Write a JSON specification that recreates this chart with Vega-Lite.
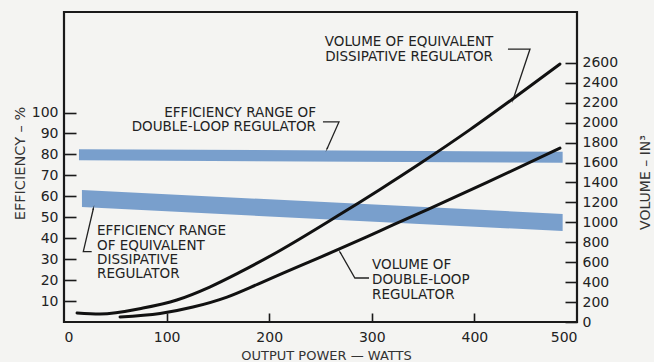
{
  "$schema": "https://vega.github.io/schema/vega-lite/v6.json",
  "width": 513,
  "height": 310,
  "autosize": {"type": "none"},
  "padding": {"left": 64, "top": 12, "right": 77, "bottom": 40},
  "background": "#f4f4f2",
  "config": {
    "view": {"stroke": "#1a1a1a", "strokeWidth": 2.2},
    "font": "DejaVu Sans",
    "axis": {
      "grid": false,
      "domain": false,
      "labelFont": "DejaVu Sans",
      "labelFontSize": 14,
      "labelColor": "#222",
      "titleFont": "DejaVu Sans",
      "titleFontWeight": "normal",
      "titleColor": "#333",
      "tickColor": "#1a1a1a",
      "tickWidth": 1.6
    }
  },
  "datasets": {
    "bands": [
      {"band": "dl", "w": 14.6, "eff": 82.5, "eff2": 77.2},
      {"band": "dl", "w": 486, "eff": 81.3, "eff2": 76.0},
      {"band": "dis", "w": 17.5, "eff": 63.0, "eff2": 54.9},
      {"band": "dis", "w": 486, "eff": 51.6, "eff2": 43.4}
    ],
    "curves": [
      {"curve": "dis", "w": 12.7, "vol": 90},
      {"curve": "dis", "w": 35, "vol": 80},
      {"curve": "dis", "w": 77, "vol": 140},
      {"curve": "dis", "w": 110, "vol": 221},
      {"curve": "dis", "w": 142, "vol": 351},
      {"curve": "dis", "w": 171.5, "vol": 500},
      {"curve": "dis", "w": 207.6, "vol": 700},
      {"curve": "dis", "w": 266, "vol": 1060},
      {"curve": "dis", "w": 308, "vol": 1330},
      {"curve": "dis", "w": 347, "vol": 1590},
      {"curve": "dis", "w": 395.7, "vol": 1930},
      {"curve": "dis", "w": 437.6, "vol": 2240},
      {"curve": "dis", "w": 483.4, "vol": 2588},
      {"curve": "dl", "w": 54.6, "vol": 50},
      {"curve": "dl", "w": 93.6, "vol": 85},
      {"curve": "dl", "w": 125.7, "vol": 150},
      {"curve": "dl", "w": 158.9, "vol": 250},
      {"curve": "dl", "w": 189.1, "vol": 380},
      {"curve": "dl", "w": 213.5, "vol": 490},
      {"curve": "dl", "w": 269, "vol": 735},
      {"curve": "dl", "w": 308, "vol": 915},
      {"curve": "dl", "w": 347, "vol": 1095},
      {"curve": "dl", "w": 412.3, "vol": 1400},
      {"curve": "dl", "w": 483.4, "vol": 1745}
    ],
    "notes": [
      {"note": "a", "w": 336.3, "eff": 133.9, "txt": "VOLUME OF EQUIVALENT"},
      {"note": "a", "w": 336.3, "eff": 126.5, "txt": "DISSIPATIVE REGULATOR"},
      {"note": "b", "w": 245.6, "eff": 100.0, "txt": "EFFICIENCY RANGE OF"},
      {"note": "b", "w": 245.6, "eff": 93.1, "txt": "DOUBLE-LOOP REGULATOR"},
      {"note": "c", "w": 32.2, "eff": 43.4, "txt": "EFFICIENCY RANGE"},
      {"note": "c", "w": 32.2, "eff": 36.5, "txt": "OF EQUIVALENT"},
      {"note": "c", "w": 32.2, "eff": 29.6, "txt": "DISSIPATIVE"},
      {"note": "c", "w": 32.2, "eff": 22.7, "txt": "REGULATOR"},
      {"note": "d", "w": 300.2, "eff": 27.2, "txt": "VOLUME OF"},
      {"note": "d", "w": 300.2, "eff": 20.1, "txt": "DOUBLE-LOOP"},
      {"note": "d", "w": 300.2, "eff": 12.9, "txt": "REGULATOR"}
    ],
    "leaders": [
      {"lead": "a", "k": 1, "w": 432.7, "eff": 130.3},
      {"lead": "a", "k": 2, "w": 454.2, "eff": 130.3},
      {"lead": "a", "k": 3, "w": 437.6, "eff": 106.0},
      {"lead": "b", "k": 1, "w": 252.4, "eff": 95.5},
      {"lead": "b", "k": 2, "w": 268.0, "eff": 95.5},
      {"lead": "b", "k": 3, "w": 256.3, "eff": 82.6},
      {"lead": "c", "k": 1, "w": 28.7, "eff": 54.3},
      {"lead": "c", "k": 2, "w": 18.8, "eff": 33.6},
      {"lead": "c", "k": 3, "w": 27.0, "eff": 33.6},
      {"lead": "d", "k": 1, "w": 269.0, "eff": 33.4},
      {"lead": "d", "k": 2, "w": 283.5, "eff": 21.0},
      {"lead": "d", "k": 3, "w": 297.3, "eff": 21.0}
    ]
  },
  "encoding": {
    "x": {
      "field": "w",
      "type": "quantitative",
      "scale": {"domain": [0, 500], "nice": false, "zero": false},
      "axis": {
        "values": [0, 100, 200, 300, 400, 500],
        "tickSize": -9,
        "tickOpacity": {"condition": {"test": "datum.value == 0 || datum.value == 500", "value": 0}, "value": 1},
        "labelPadding": 17,
        "title": "OUTPUT POWER — WATTS",
        "titleFontSize": 13,
        "titleX": 262,
        "titleY": 33,
        "titleBaseline": "middle",
        "titleAlign": "center"
      }
    }
  },
  "layer": [
    {
      "encoding": {
        "y": {
          "field": "eff",
          "type": "quantitative",
          "scale": {"domain": [0, 148], "nice": false},
          "axis": {
            "orient": "left",
            "values": [10, 20, 30, 40, 50, 60, 70, 80, 90, 100],
            "tickSize": -12,
            "labelPadding": 18,
            "title": "EFFICIENCY – %",
            "titleFontSize": 14.5,
            "titleAngle": 270,
            "titleX": -44,
            "titleY": 151,
            "titleBaseline": "middle",
            "titleAlign": "center"
          }
        }
      },
      "layer": [
        {
          "data": {"name": "bands"},
          "mark": {"type": "area", "color": "#6e97c9", "opacity": 0.92},
          "encoding": {"y2": {"field": "eff2"}, "detail": {"field": "band"}}
        },
        {
          "data": {"name": "leaders"},
          "mark": {"type": "line", "color": "#222", "strokeWidth": 1.3},
          "encoding": {"detail": {"field": "lead"}, "order": {"field": "k", "type": "quantitative"}}
        },
        {
          "data": {"name": "notes"},
          "transform": [{"filter": "datum.note == 'a'"}],
          "mark": {"type": "text", "align": "center", "baseline": "middle", "fontSize": 13.5, "font": "DejaVu Sans", "color": "#222"},
          "encoding": {"text": {"field": "txt"}}
        },
        {
          "data": {"name": "notes"},
          "transform": [{"filter": "datum.note == 'b'"}],
          "mark": {"type": "text", "align": "right", "baseline": "middle", "fontSize": 13.5, "font": "DejaVu Sans", "color": "#222"},
          "encoding": {"text": {"field": "txt"}}
        },
        {
          "data": {"name": "notes"},
          "transform": [{"filter": "datum.note == 'c' || datum.note == 'd'"}],
          "mark": {"type": "text", "align": "left", "baseline": "middle", "fontSize": 13.5, "font": "DejaVu Sans", "color": "#222"},
          "encoding": {"text": {"field": "txt"}}
        },
        {
          "data": {"name": "leaders"},
          "transform": [{"filter": "datum.lead == 'a' && datum.k == 3"}],
          "mark": {"type": "point", "shape": "wedge", "filled": true, "color": "#222", "size": 35, "angle": 198, "opacity": 1},
          "encoding": {}
        },
        {
          "data": {"name": "leaders"},
          "transform": [{"filter": "datum.lead == 'b' && datum.k == 3"}],
          "mark": {"type": "point", "shape": "wedge", "filled": true, "color": "#222", "size": 35, "angle": 204, "opacity": 1},
          "encoding": {}
        },
        {
          "data": {"name": "leaders"},
          "transform": [{"filter": "datum.lead == 'c' && datum.k == 1"}],
          "mark": {"type": "point", "shape": "wedge", "filled": true, "color": "#222", "size": 35, "angle": 13, "opacity": 1},
          "encoding": {}
        },
        {
          "data": {"name": "leaders"},
          "transform": [{"filter": "datum.lead == 'd' && datum.k == 1"}],
          "mark": {"type": "point", "shape": "wedge", "filled": true, "color": "#222", "size": 35, "angle": 330, "opacity": 1},
          "encoding": {}
        }
      ]
    },
    {
      "data": {"name": "curves"},
      "mark": {"type": "line", "color": "#111", "strokeWidth": 3, "interpolate": "monotone", "strokeCap": "round"},
      "encoding": {
        "y": {
          "field": "vol",
          "type": "quantitative",
          "scale": {"domain": [0, 3110], "nice": false},
          "axis": {
            "orient": "right",
            "values": [0, 200, 400, 600, 800, 1000, 1200, 1400, 1600, 1800, 2000, 2200, 2400, 2600],
            "format": "d",
            "tickSize": -12,
            "labelPadding": 17,
            "title": "VOLUME – IN³",
            "titleFontSize": 14,
            "titleAngle": 270,
            "titleX": 68,
            "titleY": 170,
            "titleBaseline": "middle",
            "titleAlign": "center"
          }
        },
        "detail": {"field": "curve"}
      }
    }
  ],
  "resolve": {"scale": {"y": "independent"}, "axis": {"y": "independent"}}
}
